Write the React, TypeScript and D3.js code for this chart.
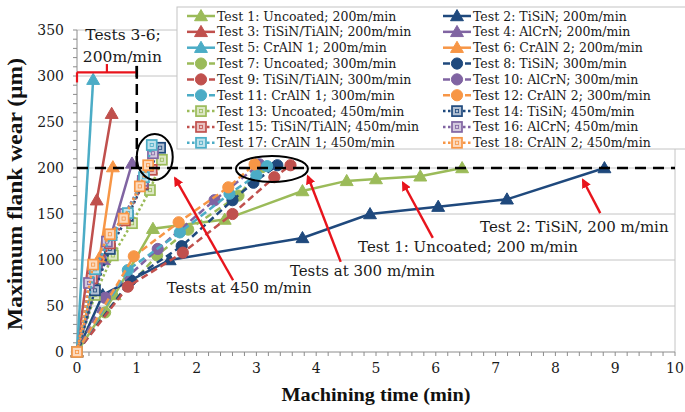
import React from "react";
import * as d3 from "d3";

const W = 685;
const H = 412;

// ---------- data ----------
const seriesNames = [
  "Test 1: Uncoated; 200m/min",
  "Test 2: TiSiN; 200m/min",
  "Test 3: TiSiN/TiAlN; 200m/min",
  "Test 4: AlCrN; 200m/min",
  "Test 5: CrAlN 1; 200m/min",
  "Test 6: CrAlN 2; 200m/min",
  "Test 7: Uncoated; 300m/min",
  "Test 8: TiSiN; 300m/min",
  "Test 9: TiSiN/TiAlN; 300m/min",
  "Test 10: AlCrN; 300m/min",
  "Test 11: CrAlN 1; 300m/min",
  "Test 12: CrAlN 2; 300m/min",
  "Test 13: Uncoated; 450m/min",
  "Test 14: TiSiN; 450m/min",
  "Test 15: TiSiN/TiAlN; 450m/min",
  "Test 16: AlCrN; 450m/min",
  "Test 17: CrAlN 1; 450m/min",
  "Test 18: CrAlN 2; 450m/min",
];

// speed (m/min) -> line style + marker
const seriesSpeeds = [200, 200, 200, 200, 200, 200, 300, 300, 300, 300, 300, 300, 450, 450, 450, 450, 450, 450];
const coatingColors = ["#9BBB59", "#1F497D", "#C0504D", "#8064A2", "#4BACC6", "#F79646"];

// 200 m/min
const test1 = [[0, 0], [0.63, 62], [1.27, 134], [2.47, 144], [3.77, 175], [4.51, 186], [5.0, 188], [5.74, 191], [6.44, 200]];
const test2 = [[0, 0], [0.43, 62], [1.55, 100], [3.77, 124], [4.9, 150], [6.04, 158], [7.19, 166], [8.82, 200]];
const test3 = [[0, 0], [0.33, 165], [0.58, 259]];
const test4 = [[0, 0], [0.45, 100], [0.92, 205]];
const test5 = [[0, 0], [0.27, 296]];
const test6 = [[0, 0], [0.38, 103], [0.6, 201]];
// 300 m/min
const test7 = [[0, 0], [0.47, 43], [1.34, 105], [1.86, 133], [2.7, 170], [3.1, 201]];
const test8 = [[0, 0], [0.9, 78], [1.75, 115], [2.6, 165], [2.95, 184], [3.35, 203]];
const test9 = [[0, 0], [0.85, 71], [1.77, 108], [2.6, 150], [3.3, 190], [3.57, 203]];
const test10 = [[0, 0], [0.47, 59], [1.35, 112], [2.3, 165], [3.05, 204]];
const test11 = [[0, 0], [0.85, 89], [1.72, 130], [2.55, 172], [3.0, 192], [3.18, 202]];
const test12 = [[0, 0], [0.95, 104], [1.7, 141], [2.53, 179], [2.97, 204]];
// 450 m/min
const test13 = [[0, 0], [0.3, 62], [0.6, 105], [0.92, 140], [1.22, 176], [1.42, 209]];
const test14 = [[0, 0], [0.3, 67], [0.55, 112], [0.85, 148], [1.1, 182], [1.39, 222]];
const test15 = [[0, 0], [0.25, 80], [0.55, 118], [0.8, 143], [1.1, 183], [1.25, 198]];
const test16 = [[0, 0], [0.2, 75], [0.5, 120], [0.8, 150], [1.1, 186], [1.27, 216]];
const test17 = [[0, 0], [0.3, 90], [0.58, 127], [0.85, 151], [1.12, 190], [1.25, 225]];
const test18 = [[0, 0], [0.27, 95], [0.55, 128], [0.78, 145], [1.05, 180], [1.19, 203]];

const seriesData = [test1, test2, test3, test4, test5, test6, test7, test8, test9, test10, test11, test12, test13, test14, test15, test16, test17, test18];

const xTicks = [0, 1, 2, 3, 4, 5, 6, 7, 8, 9, 10];
const yTicks = [0, 50, 100, 150, 200, 250, 300, 350];

const wearLimit = 200;

// annotations (data coordinates)
const arrows = [
  { from: [2.61, 78], to: [1.64, 189] },
  { from: [4.41, 98], to: [3.86, 191] },
  { from: [5.95, 124], to: [5.45, 184] },
  { from: [8.75, 151], to: [8.46, 187] },
];
const ellipses = [
  { cx: 1.3, cy: 212, rx: 18, ry: 23 },
  { cx: 3.26, cy: 199, rx: 36, ry: 13 },
];
const labels = [
  { x: 1.5, y: 64, text: "Tests at 450 m/min" },
  { x: 3.56, y: 83, text: "Tests at 300 m/min" },
  { x: 4.7, y: 109, text: "Test 1: Uncoated; 200 m/min" },
  { x: 6.74, y: 130.5, text: "Test 2: TiSiN, 200 m/min" },
];

// ---------- scales ----------
const x = d3.scaleLinear().domain([0, 10]).range([77, 675]);
const y = d3.scaleLinear().domain([0, 350]).range([352, 30]);

const dashFor = (s: number) => (s === 200 ? undefined : s === 300 ? "7,4" : "2.5,2.5");

function Marker({ speed, color, cx, cy }: { speed: number; color: string; cx: number; cy: number }) {
  if (speed === 200) {
    const p = d3.symbol(d3.symbolTriangle, 72)();
    return <path d={p || ""} transform={`translate(${cx},${cy + 1})`} fill={color} stroke={color} strokeWidth={1} />;
  }
  if (speed === 300) {
    return <circle cx={cx} cy={cy} r={5.6} fill={color} stroke={color} strokeWidth={1} />;
  }
  const light = d3.interpolateRgb("#ffffff", color)(0.35);
  return (
    <g>
      <rect x={cx - 5} y={cy - 5} width={10} height={10} fill={light} stroke={color} strokeWidth={1.7} />
      <rect x={cx - 1.6} y={cy - 1.6} width={3.2} height={3.2} fill="none" stroke={color} strokeWidth={0.8} />
    </g>
  );
}

export default function App() {
  const line = d3
    .line<number[]>()
    .x((d) => x(d[0]))
    .y((d) => y(d[1]));

  const minorX = d3.range(0, 10.001, 0.2);
  const minorY = d3.range(0, 350.001, 10);

  const serif = "'DejaVu Serif', serif";
  const legendRowH = 15.85;

  return (
    <svg width={W} height={H} style={{ position: "absolute", left: 0, top: 0, background: "#fff" }} fontFamily={serif}>
      <defs>
        <marker id="arrowHead" viewBox="0 0 10 10" refX="8" refY="5" markerWidth="4" markerHeight="4" orient="auto" markerUnits="strokeWidth">
          <path d="M0,0 L10,5 L0,10 z" fill="#E8141C" />
        </marker>
      </defs>
      <rect x={0} y={0} width={W} height={H} fill="#fff" />

      {/* gridlines */}
      {yTicks.filter((t) => t > 0).map((t) => (
        <line key={t} x1={x(0)} x2={x(10)} y1={y(t)} y2={y(t)} stroke="#C4C4C4" strokeWidth={1} />
      ))}
      <line x1={x(10)} x2={x(10)} y1={y(350)} y2={y(0)} stroke="#C4C4C4" strokeWidth={1} />

      {/* axes */}
      <line x1={x(0)} x2={x(10)} y1={y(0)} y2={y(0)} stroke="#8C8C8C" strokeWidth={1} />
      <line x1={x(0)} x2={x(0)} y1={y(0)} y2={y(350)} stroke="#8C8C8C" strokeWidth={1} />
      {minorX.map((t, i) => (
        <line key={"mx" + i} x1={x(t)} x2={x(t)} y1={y(0)} y2={y(0) + 4} stroke="#8C8C8C" strokeWidth={1} />
      ))}
      {minorY.map((t, i) => (
        <line key={"my" + i} x1={x(0) - 4} x2={x(0)} y1={y(t)} y2={y(t)} stroke="#8C8C8C" strokeWidth={1} />
      ))}
      {xTicks.map((t) => (
        <text key={"xt" + t} x={x(t)} y={373} textAnchor="middle" fontSize={14} fill="#1a1a1a">
          {t}
        </text>
      ))}
      {yTicks.map((t) => (
        <text key={"yt" + t} x={64} y={y(t) + 5} textAnchor="end" fontSize={14} fill="#1a1a1a">
          {t}
        </text>
      ))}
      <text x={376} y={401} textAnchor="middle" fontSize={19} fontWeight="bold" fontFamily="'Liberation Serif', serif" textLength={189} lengthAdjust="spacingAndGlyphs" fill="#111">
        Machining time (min)
      </text>
      <text transform={`translate(22,194) rotate(-90)`} textAnchor="middle" fontSize={20} fontWeight="bold" fontFamily="'Liberation Serif', serif" textLength={272} lengthAdjust="spacingAndGlyphs" fill="#111">
        Maximum flank wear (µm)
      </text>

      {/* series */}
      {seriesData.map((data, i) => {
        const color = coatingColors[i % 6];
        const speed = seriesSpeeds[i];
        return (
          <g key={"s" + i}>
            <path d={line(data) || ""} fill="none" stroke={color} strokeWidth={2.5} strokeDasharray={dashFor(speed)} />
            {data.map((d, j) => (
              <Marker key={j} speed={speed} color={color} cx={x(d[0])} cy={y(d[1])} />
            ))}
          </g>
        );
      })}

      {/* wear limit */}
      <line x1={x(0)} x2={x(10)} y1={y(wearLimit)} y2={y(wearLimit)} stroke="#000" strokeWidth={2.5} strokeDasharray="11,7" />
      <line x1={x(1)} x2={x(1)} y1={y(311)} y2={y(wearLimit)} stroke="#000" strokeWidth={2.5} strokeDasharray="11,7" />

      {/* bracket Tests 3-6 */}
      <g stroke="#E8141C" strokeWidth={2.2} fill="none">
        <line x1={x(0)} x2={x(1)} y1={y(304)} y2={y(304)} />
        <line x1={x(0)} x2={x(0)} y1={y(304)} y2={y(293)} />
        <line x1={x(0.5)} x2={x(0.5)} y1={y(304)} y2={y(313)} />
      </g>
      <line x1={x(1)} x2={x(1)} y1={y(311)} y2={y(297)} stroke="#000" strokeWidth={2.5} />
      <text x={x(0.77)} y={40} textAnchor="middle" fontSize={15.5} fill="#1a1a1a">Tests 3-6;</text>
      <text x={x(0.76)} y={62} textAnchor="middle" fontSize={15.5} fill="#1a1a1a">200m/min</text>

      {/* ellipses */}
      {ellipses.map((e, i) => (
        <ellipse key={"e" + i} cx={x(e.cx)} cy={y(e.cy)} rx={e.rx} ry={e.ry} fill="none" stroke="#000" strokeWidth={2} />
      ))}

      {/* arrows */}
      {arrows.map((a, i) => (
        <line key={"a" + i} x1={x(a.from[0])} y1={y(a.from[1])} x2={x(a.to[0])} y2={y(a.to[1])} stroke="#E8141C" strokeWidth={2.4} markerEnd="url(#arrowHead)" />
      ))}

      {/* labels */}
      {labels.map((l, i) => (
        <text key={"l" + i} x={x(l.x)} y={y(l.y)} fontSize={15} fill="#1a1a1a">
          {l.text}
        </text>
      ))}

      {/* legend */}
      <rect x={177} y={7} width={520} height={142} fill="#fff" stroke="#C4C4C4" strokeWidth={1} />
      {seriesNames.map((name, i) => {
        const col = i % 2;
        const row = Math.floor(i / 2);
        const x0 = col === 0 ? 187 : 443;
        const cy = 16 + row * legendRowH;
        const color = coatingColors[i % 6];
        const speed = seriesSpeeds[i];
        return (
          <g key={"lg" + i}>
            <line x1={x0} x2={x0 + 28} y1={cy} y2={cy} stroke={color} strokeWidth={2.5} strokeDasharray={dashFor(speed)} />
            <Marker speed={speed} color={color} cx={x0 + 14} cy={cy} />
            <text x={x0 + 30} y={cy + 4.5} fontSize={12.5} fill="#1a1a1a">
              {name}
            </text>
          </g>
        );
      })}
    </svg>
  );
}
